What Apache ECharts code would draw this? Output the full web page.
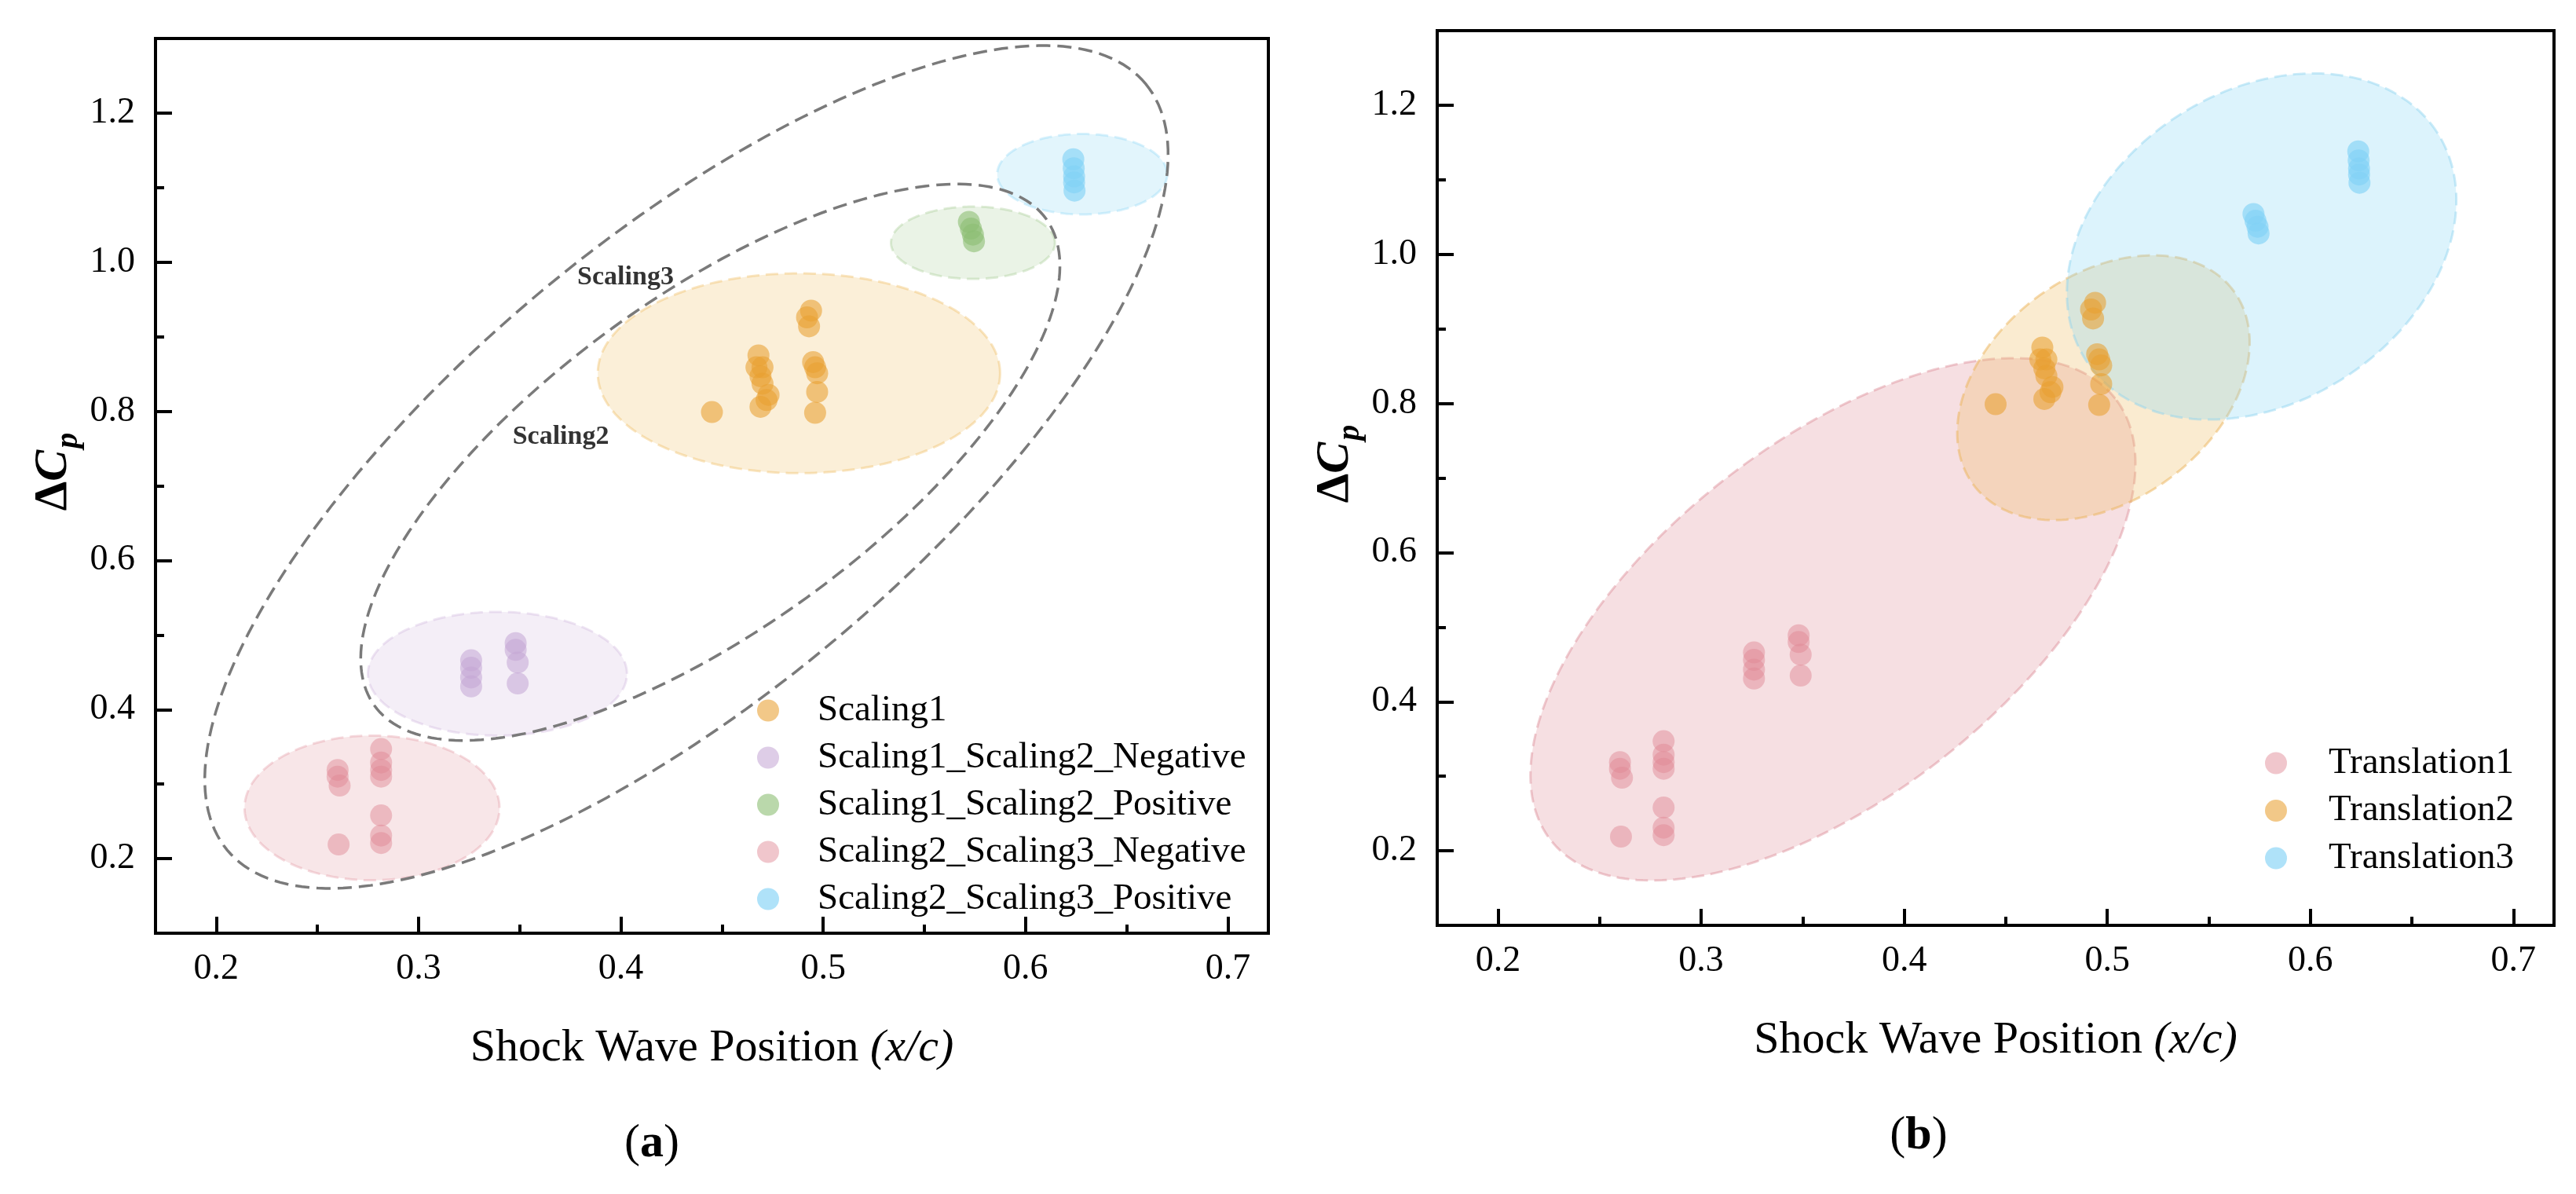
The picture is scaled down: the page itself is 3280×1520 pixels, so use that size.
<!DOCTYPE html>
<html>
<head>
    <meta charset="utf-8">
    <title>Shock Wave Position - ΔCp</title>
    <script src="https://cdn.jsdelivr.net/npm/echarts@6.0.0/dist/echarts.min.js"></script>
    <style>
        html, body { margin: 0; padding: 0; background: #fff; }
        #chart { width: 3280px; height: 1520px; }
    </style>
</head>
<body>
<div id="chart"></div>
<script>
    // 数据
    var scaling1X = [0.445, 0.468, 0.467, 0.470, 0.469, 0.470, 0.473, 0.472, 0.469, 0.494, 0.492, 0.493, 0.495, 0.496, 0.497, 0.497, 0.496];
    var scaling1Y = [0.799, 0.875, 0.859, 0.859, 0.847, 0.837, 0.822, 0.815, 0.806, 0.935, 0.926, 0.914, 0.866, 0.859, 0.851, 0.826, 0.798];

    var s12NegX = [0.326, 0.326, 0.326, 0.326, 0.348, 0.348, 0.349, 0.349];
    var s12NegY = [0.466, 0.456, 0.443, 0.431, 0.489, 0.480, 0.463, 0.435];

    var s12PosX = [0.572, 0.573, 0.574, 0.5745];
    var s12PosY = [1.054, 1.045, 1.037, 1.028];

    var s23NegX = [0.260, 0.260, 0.261, 0.2605, 0.2815, 0.2815, 0.2815, 0.2815, 0.2815, 0.2815, 0.2815];
    var s23NegY = [0.319, 0.310, 0.298, 0.219, 0.347, 0.329, 0.319, 0.310, 0.258, 0.231, 0.221];

    var s23PosX = [0.6236, 0.6238, 0.624, 0.624, 0.6242];
    var s23PosY = [1.138, 1.126, 1.115, 1.107, 1.096];

    // ellipse regions: [centerX, centerY, axis1 endX, axis1 endY, axis2 endX, axis2 endY]
    var regionS23Neg = [0.277, 0.268, 0.340, 0.268, 0.277, 0.365];
    var regionS12Neg = [0.339, 0.448, 0.403, 0.448, 0.339, 0.531];
    var regionS1 = [0.488, 0.851, 0.5874, 0.851, 0.488, 0.985];
    var regionS12Pos = [0.574, 1.026, 0.6145, 1.026, 0.574, 1.0745];
    var regionS23Pos = [0.628, 1.118, 0.670, 1.118, 0.628, 1.172];
    var regionScaling3 = [0.4324, 0.7253, 0.6594, 1.239, 0.3607, 0.961];
    var regionScaling2 = [0.4442, 0.7316, 0.6102, 1.0579, 0.3963, 0.9126];

    var regionT1 = [0.3649, 0.5105, 0.5039, 0.8067, 0.3113, 0.6975];
    var regionT2 = [0.4981, 0.8211, 0.5621, 0.9513, 0.4651, 0.9418];
    var regionT3 = [0.576, 1.0105, 0.6624, 1.1636, 0.5344, 1.185];

    var regionLabelNames = ['Scaling3', 'Scaling2'];
    var regionLabelX = [0.4023, 0.3703];
    var regionLabelY = [0.980, 0.766];

    var xMajorTicks = [0.2, 0.3, 0.4, 0.5, 0.6, 0.7];
    var xMinorTicks = [0.25, 0.35, 0.45, 0.55, 0.65];
    var yMajorTicks = [0.2, 0.4, 0.6, 0.8, 1.0, 1.2];
    var yMinorTicks = [0.3, 0.5, 0.7, 0.9, 1.1];

    var leftNames = ['Scaling1', 'Scaling1_Scaling2_Negative', 'Scaling1_Scaling2_Positive',
        'Scaling2_Scaling3_Negative', 'Scaling2_Scaling3_Positive'];
    var rightNames = ['Translation1', 'Translation2', 'Translation3'];

    var FONT = 'Liberation Serif';

    function zip(xs, ys) {
        var out = [];
        for (var i = 0; i < xs.length; i++) out.push([xs[i], ys[i]]);
        return out;
    }

    // draw an ellipse region through the axis scales
    function regionSeries(geo, idx, fill, stroke, width, dash, z) {
        return {
            type: 'custom', xAxisIndex: idx, yAxisIndex: idx, z: z, silent: true,
            data: [geo],
            renderItem: function (params, api) {
                var c = api.coord([api.value(0), api.value(1)]);
                var a = api.coord([api.value(2), api.value(3)]);
                var b = api.coord([api.value(4), api.value(5)]);
                var ux = a[0] - c[0], uy = a[1] - c[1], vx = b[0] - c[0], vy = b[1] - c[1];
                var pts = [];
                for (var i = 0; i < 240; i++) {
                    var t = i / 240 * Math.PI * 2;
                    pts.push([c[0] + ux * Math.cos(t) + vx * Math.sin(t), c[1] + uy * Math.cos(t) + vy * Math.sin(t)]);
                }
                return {
                    type: 'polygon', shape: { points: pts },
                    style: { fill: fill, stroke: stroke, lineWidth: width, lineDash: dash }
                };
            }
        };
    }

    function dots(name, data, idx, color) {
        return {
            type: 'scatter', name: name, xAxisIndex: idx, yAxisIndex: idx, z: 4,
            symbol: 'circle', symbolSize: 28, data: data,
            itemStyle: { color: color, borderWidth: 0 }
        };
    }

    function xAxes(gi) {
        return [{
            type: 'value', gridIndex: gi, min: 0.17, max: 0.72, position: 'bottom',
            axisLine: { show: true, onZero: false, lineStyle: { color: '#000', width: 4 } },
            axisTick: { show: true, inside: true, length: 21, customValues: xMajorTicks, lineStyle: { color: '#000', width: 4 } },
            axisLabel: {
                show: true, customValues: xMajorTicks, margin: 23,
                formatter: function (v) { return v.toFixed(1); },
                fontFamily: FONT, fontSize: 46, color: '#000'
            },
            splitLine: { show: false },
            name: '{n|Shock Wave Position }{i|(x/c)}',
            nameLocation: 'middle', nameGap: 118,
            nameTextStyle: {
                rich: {
                    n: { fontFamily: FONT, fontSize: 58, color: '#000' },
                    i: { fontFamily: FONT, fontSize: 58, fontStyle: 'italic', color: '#000' }
                }
            }
        }, {
            type: 'value', gridIndex: gi, min: 0.17, max: 0.72, position: 'bottom',
            axisLine: { show: false },
            axisTick: { show: true, inside: true, length: 11, customValues: xMinorTicks, lineStyle: { color: '#000', width: 4 } },
            axisLabel: { show: false },
            splitLine: { show: false }
        }];
    }

    function yAxes(gi) {
        return [{
            type: 'value', gridIndex: gi, min: 0.1, max: 1.3, position: 'left',
            axisLine: { show: true, onZero: false, lineStyle: { color: '#000', width: 4 } },
            axisTick: { show: true, inside: true, length: 21, customValues: yMajorTicks, lineStyle: { color: '#000', width: 4 } },
            axisLabel: {
                show: true, customValues: yMajorTicks, margin: 26,
                formatter: function (v) { return v.toFixed(1); },
                fontFamily: FONT, fontSize: 46, color: '#000'
            },
            splitLine: { show: false },
            name: '{d|Δ}{c|C}{p|p}',
            nameLocation: 'middle', nameRotate: 90, nameGap: 100,
            nameTextStyle: {
                padding: [0, 0, 0, 36],
                rich: {
                    d: { fontFamily: FONT, fontSize: 60, fontWeight: 'bold', color: '#000', verticalAlign: 'top', lineHeight: 60 },
                    c: { fontFamily: FONT, fontSize: 60, fontWeight: 'bold', fontStyle: 'italic', color: '#000', verticalAlign: 'top', lineHeight: 60 },
                    p: { fontFamily: FONT, fontSize: 40, fontWeight: 'bold', fontStyle: 'italic', color: '#000', lineHeight: 40, padding: [40, 0, 0, 2] }
                }
            }
        }, {
            type: 'value', gridIndex: gi, min: 0.1, max: 1.3, position: 'left',
            axisLine: { show: false },
            axisTick: { show: true, inside: true, length: 11, customValues: yMinorTicks, lineStyle: { color: '#000', width: 4 } },
            axisLabel: { show: false },
            splitLine: { show: false }
        }];
    }

    var myChart = echarts.init(document.getElementById('chart'));

    var labelData = [];
    for (var i = 0; i < regionLabelNames.length; i++) {
        labelData.push({ name: regionLabelNames[i], value: [regionLabelX[i], regionLabelY[i]] });
    }

    myChart.setOption({
        animation: false,
        backgroundColor: '#fff',
        grid: [
            { left: 198, top: 49, width: 1417, height: 1139, show: true, borderColor: '#000', borderWidth: 4, backgroundColor: 'transparent' },
            { left: 1830, top: 39, width: 1422, height: 1139, show: true, borderColor: '#000', borderWidth: 4, backgroundColor: 'transparent' }
        ],
        xAxis: xAxes(0).concat(xAxes(1)),
        yAxis: yAxes(0).concat(yAxes(1)),
        legend: [{
            data: leftNames, orient: 'vertical', left: 959, top: 876,
            icon: 'circle', itemWidth: 28, itemHeight: 28, itemGap: 13,
            textStyle: { fontFamily: FONT, fontSize: 47, color: '#000', lineHeight: 47, padding: [0, 0, 0, 44] },
            selectedMode: false
        }, {
            data: rightNames, orient: 'vertical', left: 2879, top: 943,
            icon: 'circle', itemWidth: 28, itemHeight: 28, itemGap: 13.5,
            textStyle: { fontFamily: FONT, fontSize: 47, color: '#000', lineHeight: 47, padding: [0, 0, 0, 48] },
            selectedMode: false
        }],
        graphic: [
            {
                type: 'text', x: 830, y: 1456,
                style: {
                    text: '{n|(}{b|a}{n|)}', align: 'center', verticalAlign: 'middle',
                    rich: {
                        n: { fontFamily: FONT, fontSize: 60, fill: '#000' },
                        b: { fontFamily: FONT, fontSize: 60, fontWeight: 'bold', fill: '#000' }
                    }
                }
            },
            {
                type: 'text', x: 2443, y: 1446,
                style: {
                    text: '{n|(}{b|b}{n|)}', align: 'center', verticalAlign: 'middle',
                    rich: {
                        n: { fontFamily: FONT, fontSize: 60, fill: '#000' },
                        b: { fontFamily: FONT, fontSize: 60, fontWeight: 'bold', fill: '#000' }
                    }
                }
            }
        ],
        series: [
            // (a) regions
            regionSeries(regionS23Neg, 0, 'rgba(225,150,160,0.24)', 'rgba(225,150,160,0.35)', 3, [16, 8], 1),
            regionSeries(regionS12Neg, 0, 'rgba(200,170,215,0.2)', 'rgba(200,170,215,0.3)', 3, [16, 8], 1),
            regionSeries(regionS1, 0, 'rgba(240,190,100,0.25)', 'rgba(240,190,100,0.4)', 3, [16, 8], 1),
            regionSeries(regionS12Pos, 0, 'rgba(160,200,140,0.22)', 'rgba(160,200,140,0.35)', 3, [16, 8], 1),
            regionSeries(regionS23Pos, 0, 'rgba(140,215,245,0.25)', 'rgba(140,215,245,0.35)', 3, [16, 8], 1),
            regionSeries(regionScaling3, 0, 'none', '#7a7a7a', 3.5, [18, 9], 2),
            regionSeries(regionScaling2, 0, 'none', '#7a7a7a', 3.5, [18, 9], 2),
            // (a) points
            dots('Scaling1', zip(scaling1X, scaling1Y), 0, 'rgba(232,160,48,0.72)'),
            dots('Scaling1_Scaling2_Negative', zip(s12NegX, s12NegY), 0, 'rgba(196,166,212,0.7)'),
            dots('Scaling1_Scaling2_Positive', zip(s12PosX, s12PosY), 0, 'rgba(140,190,115,0.75)'),
            dots('Scaling2_Scaling3_Negative', zip(s23NegX, s23NegY), 0, 'rgba(224,136,148,0.6)'),
            dots('Scaling2_Scaling3_Positive', zip(s23PosX, s23PosY), 0, 'rgba(130,210,245,0.8)'),
            {
                type: 'scatter', xAxisIndex: 0, yAxisIndex: 0, z: 5, silent: true,
                symbolSize: 1, itemStyle: { color: 'rgba(0,0,0,0)' },
                data: labelData,
                label: {
                    show: true, position: 'inside', formatter: function (p) { return p.name; },
                    fontFamily: FONT, fontSize: 34, fontWeight: 'bold', color: '#000'
                }
            },
            // (b) regions
            regionSeries(regionT1, 2, 'rgba(225,150,160,0.3)', 'rgba(220,140,150,0.45)', 3, [16, 8], 1),
            regionSeries(regionT2, 2, 'rgba(240,190,100,0.3)', 'rgba(235,180,90,0.5)', 3, [16, 8], 1),
            regionSeries(regionT3, 2, 'rgba(140,215,245,0.3)', 'rgba(140,210,240,0.45)', 3, [16, 8], 1),
            // (b) points
            dots('Translation1', zip(s23NegX.concat(s12NegX), s23NegY.concat(s12NegY)), 2, 'rgba(224,136,148,0.6)'),
            dots('Translation2', zip(scaling1X, scaling1Y), 2, 'rgba(232,160,48,0.72)'),
            dots('Translation3', zip(s12PosX.concat(s23PosX), s12PosY.concat(s23PosY)), 2, 'rgba(130,210,245,0.8)')
        ]
    });
</script>
</body>
</html>
